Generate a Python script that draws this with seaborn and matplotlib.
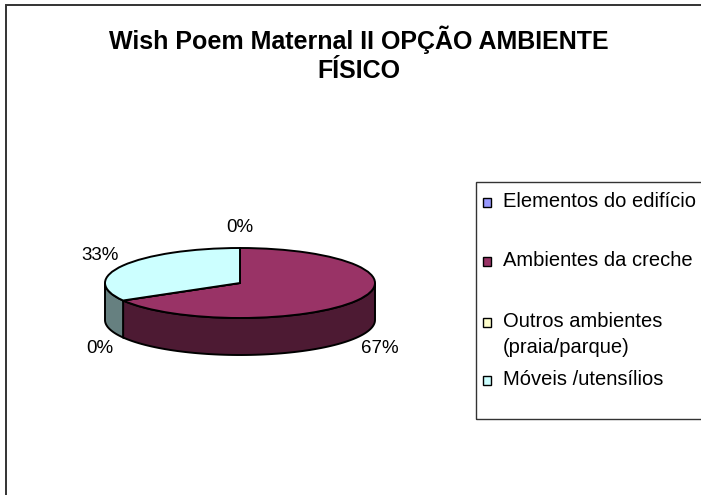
import matplotlib
matplotlib.use("Agg")
import matplotlib.pyplot as plt
import numpy as np
import seaborn as sns
from matplotlib.patches import Polygon, Rectangle

categories = [
    "Elementos do edifício",
    "Ambientes da creche",
    "Outros ambientes\n(praia/parque)",
    "Móveis /utensílios",
]
counts = [0, 2, 0, 1]
top_colors = ["#9999FF", "#993366", "#FFFFCC", "#CCFFFF"]
side_colors = ["#4D4D80", "#4D1A33", "#808066", "#668080"]
title = "Wish Poem Maternal II OPÇÃO AMBIENTE\nFÍSICO"

sns.set_theme(style="white")
plt.rcParams["font.family"] = ["Liberation Sans", "DejaVu Sans"]
plt.rcParams["text.color"] = "black"

W, H = 701, 495
fig = plt.figure(figsize=(W / 100, H / 100), dpi=100)
fig.patch.set_facecolor("white")
ax = fig.add_axes([0, 0, 1, 1])

# pie geometry in pixels (centre of top face, radii, thickness)
cx, cy, rx, ry, depth = 240, 283, 135, 35, 37
depth_u = depth / ry

wedges, _, pct = ax.pie(
    counts,
    colors=top_colors,
    startangle=90,
    counterclock=False,
    autopct="%1.0f%%",
    wedgeprops=dict(edgecolor="black", linewidth=1.4, zorder=2),
    textprops=dict(fontsize=13.5, color="black"),
)

# side walls of the front half of the pie
for w, col in zip(wedges, side_colors):
    t1, t2 = w.theta1, w.theta2
    for k in (-360, 0, 360):
        a, b = max(t1, 180 + k), min(t2, 360 + k)
        if b - a <= 0:
            continue
        t = np.radians(np.linspace(a, b, 80))
        top = np.column_stack([np.cos(t), np.sin(t)])
        bot = np.column_stack([np.cos(t[::-1]), np.sin(t[::-1]) - depth_u])
        ax.add_patch(Polygon(np.vstack([top, bot]), closed=True, facecolor=col,
                             edgecolor="black", linewidth=1.4, zorder=1))

# percentage labels placed outside the slices
for w, txt in zip(wedges, pct):
    mid = np.radians((w.theta1 + w.theta2) / 2)
    x = 1.2 * np.cos(mid)
    y = 1.6 * np.sin(mid)
    if np.sin(mid) < -0.01:
        y -= depth_u
    txt.set_position((x, y))
    txt.set_ha("center")
    txt.set_va("center")

ax.set_aspect("auto")
ax.set_xlim(-cx / rx, (W - cx) / rx)
ax.set_ylim(-(H - cy) / ry, cy / ry)
ax.axis("off")

fig.text(359 / W, 1 - 54 / H, title, ha="center", va="center",
         fontsize=18, fontweight="bold", linespacing=1.25, color="black")

# chart area border (clipped at right and bottom)
fig.add_artist(Rectangle((5.5 / W, -0.1), 1.2, (H - 5) / H + 0.1,
                         transform=fig.transFigure, fill=False,
                         edgecolor="#333333", linewidth=1.4))

# legend box
fig.add_artist(Rectangle((476 / W, 1 - 419 / H), 1.0, (419 - 182) / H,
                         transform=fig.transFigure, fill=False,
                         edgecolor="#333333", linewidth=1.0))
baselines = [207, 266, 327, 385]
for lab, col, yb in zip(categories, top_colors, baselines):
    fig.add_artist(Rectangle((483 / W, 1 - yb / H), 8 / W, 9 / H,
                             transform=fig.transFigure, facecolor=col,
                             edgecolor="black", linewidth=1.0))
    fig.text(503 / W, 1 - yb / H, lab.split("\n")[0], ha="left", va="baseline",
             fontsize=14.5, color="black")
    if "\n" in lab:
        fig.text(503 / W, 1 - (yb + 26) / H, lab.split("\n")[1], ha="left",
                 va="baseline", fontsize=14.5, color="black")

fig.savefig("out.png", dpi=100)
